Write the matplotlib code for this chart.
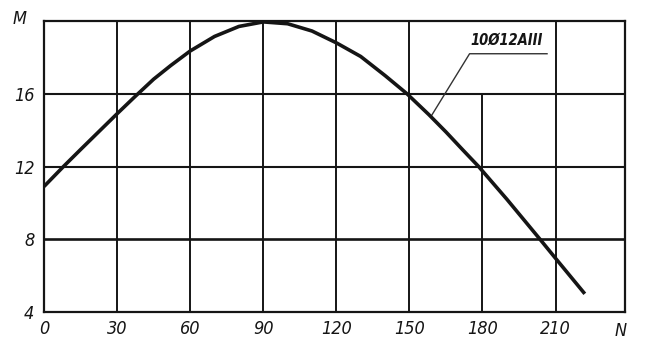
import matplotlib
matplotlib.use("Agg")
import matplotlib.pyplot as plt

# Data
N = [0, 8, 15, 22, 30, 37, 45, 52, 60, 70, 80, 90, 100, 110, 120, 130, 140,
     149, 158, 165, 172, 178.4, 190, 203.6, 210, 222]
M = [10.9, 12.0, 12.93, 13.85, 14.9, 15.8, 16.8, 17.55, 18.35, 19.15, 19.7,
     19.95, 19.85, 19.45, 18.8, 18.05, 17.0, 16.0, 14.85, 13.9, 12.9, 12.0,
     10.2, 8.0, 6.95, 5.0]
x_ticks = [0, 30, 60, 90, 120, 150, 180, 210]
y_ticks = [4, 8, 12, 16]
label_text = "10Ø12AIII"
leader_x = [158.8, 174.7, 206.5]
leader_y = [14.74, 18.2, 18.2]

ink = "#151515"
fkw = dict(family="DejaVu Sans", stretch="condensed", style="italic")

fig = plt.figure(figsize=(6.55, 3.61), dpi=100)
ax = fig.add_axes([44/655, 1-312/361, (625-44)/655, (312-21)/361])
ax.set_xlim(0, 238.5)
ax.set_ylim(4, 20)

for s in ax.spines.values():
    s.set_color(ink)
    s.set_linewidth(1.6)

# grid
for xv in [30, 60, 90, 120, 150, 210]:
    ax.axvline(xv, color=ink, lw=1.4, zorder=1)
ax.vlines(180, 4, 16, color=ink, lw=1.4, zorder=1)
for yv in [8, 12, 16]:
    ax.axhline(yv, color=ink, lw=1.5 if yv != 8 else 1.9, zorder=1)

# curve
ax.plot(N, M, color=ink, lw=2.6, zorder=3, solid_capstyle="butt",
        solid_joinstyle="round")

# leader + label
ax.plot(leader_x, leader_y, color="#333333", lw=1.0, zorder=2)
ax.text(190, 18.55, label_text, fontsize=10.5, weight="bold",
        color=ink, ha="center", va="bottom", **fkw)

ax.set_xticks(x_ticks)
ax.set_xticklabels([str(v) for v in x_ticks], fontsize=13, color=ink, **fkw)
ax.set_yticks(y_ticks)
ax.set_yticklabels([str(v) for v in y_ticks], fontsize=13, color=ink, **fkw)
ax.tick_params(length=0, pad=7)
ax.tick_params(axis="x", pad=6)

fig.text(20/655, 1-19/361, "M", fontsize=13, color=ink,
         ha="center", va="center", **fkw)
fig.text(621/655, 1-331/361, "N", fontsize=13, color=ink,
         ha="center", va="center", **fkw)

fig.savefig("out.png", dpi=100, facecolor="white")
